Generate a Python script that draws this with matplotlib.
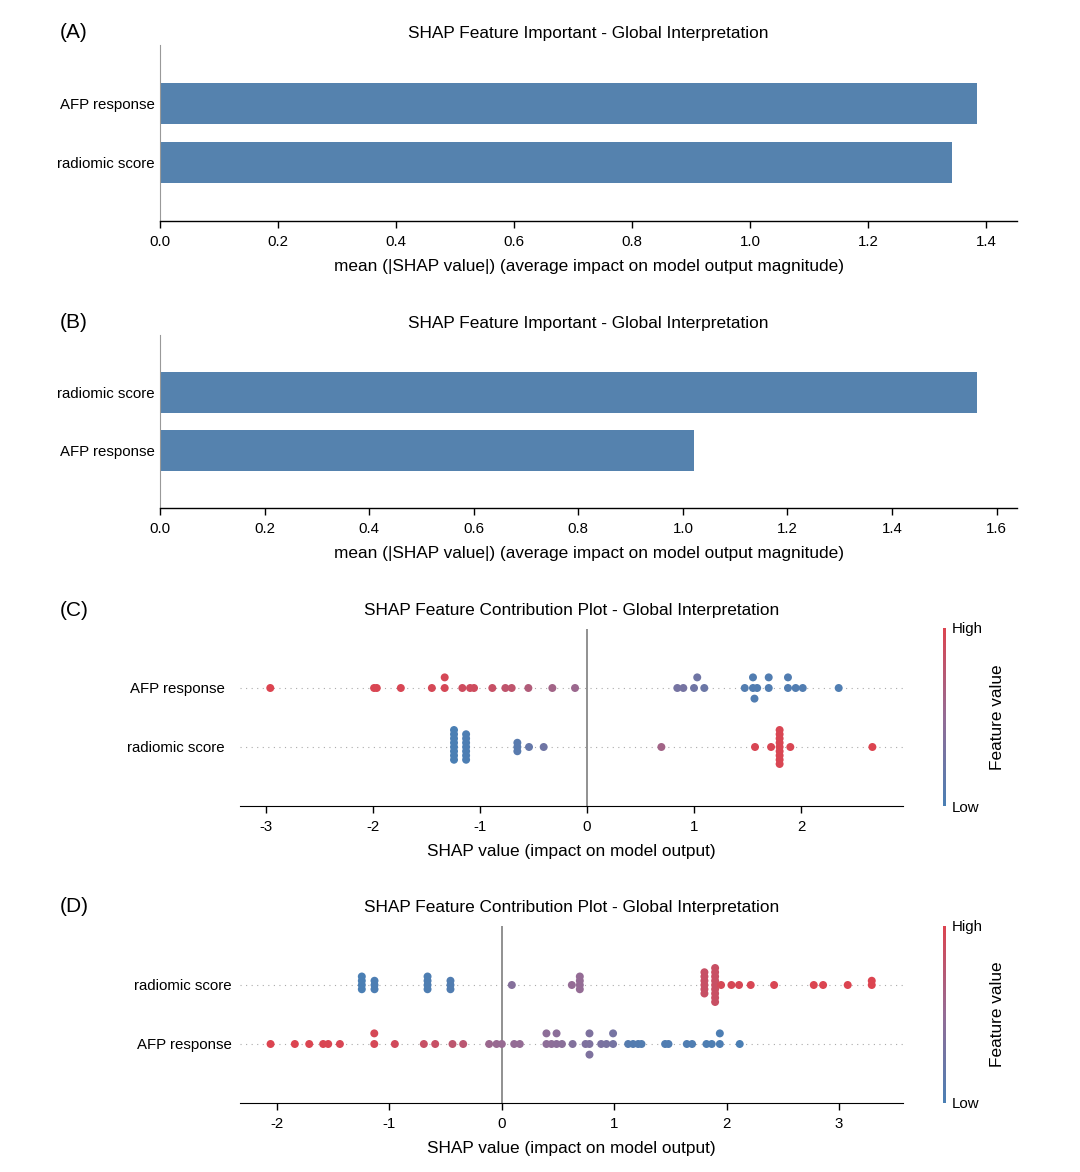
import numpy as np
import matplotlib.pyplot as plt
from matplotlib.colors import LinearSegmentedColormap
from matplotlib.cm import ScalarMappable

plt.rcParams['font.family'] = ['Liberation Sans', 'DejaVu Sans']
plt.rcParams['axes.unicode_minus'] = False

# ---- data -------------------------------------------------------------
# (A) / (B) global importance, features listed top to bottom
a_features = ['AFP response', 'radiomic score']
a_values = [1.385, 1.342]
b_features = ['radiomic score', 'AFP response']
b_values = [1.562, 1.021]

# (C) SHAP values and feature values (0 = low, 1 = high)
c_features = ['AFP response', 'radiomic score']
c_afp_shap = [-2.96, -1.99, -1.965, -1.74, -1.45, -1.33, -1.33, -1.165, -1.093,
              -1.056, -0.885, -0.763, -0.704, -0.548, -0.324, -0.112, 0.844, 0.90,
              1.0, 1.03, 1.096, 1.474, 1.551, 1.551, 1.565, 1.59, 1.698, 1.698,
              1.878, 1.878, 1.95, 2.016, 2.352]
c_afp_feat = [1.0, 0.98, 0.98, 0.97, 0.95, 0.95, 0.95, 0.9, 0.9,
              0.9, 0.85, 0.8, 0.8, 0.7, 0.6, 0.55, 0.3, 0.3,
              0.25, 0.25, 0.22, 0.06, 0.05, 0.05, 0.05, 0.05, 0.05, 0.05,
              0.05, 0.05, 0.05, 0.05, 0.04]
c_rad_shap = [-1.243] * 8 + [-1.13] * 7 + [-0.651] * 3 + [-0.542, -0.405, 0.695,
              1.57, 1.72] + [1.80] * 9 + [1.90, 2.667]
c_rad_feat = [0.0] * 8 + [0.02] * 7 + [0.1] * 3 + [0.18, 0.25, 0.6,
              0.97, 0.97] + [0.98] * 9 + [0.98, 1.0]

# (D)
d_features = ['radiomic score', 'AFP response']
d_rad_shap = [-1.246] * 4 + [-1.133] * 3 + [-0.661] * 4 + [-0.457] * 3 + [0.089, 0.623] + \
             [0.694] * 4 + [1.803] * 6 + [1.898] * 9 + [1.951, 2.043, 2.111, 2.215, 2.423,
             2.776, 2.859, 3.078, 3.292, 3.292]
d_rad_feat = [0.0] * 4 + [0.02] * 3 + [0.03] * 4 + [0.05] * 3 + [0.4, 0.5] + \
             [0.5] * 4 + [0.85] * 6 + [0.86] * 9 + [0.95, 0.96, 0.96, 0.97, 0.98,
             0.99, 0.99, 1.0, 1.0, 1.0]
d_afp_shap = [-2.058, -1.842, -1.714, -1.59, -1.545, -1.441, -1.135, -1.135, -0.952,
              -0.694, -0.593, -0.439, -0.344, -0.113, -0.047, 0.0, 0.110, 0.160,
              0.397, 0.397, 0.442, 0.487, 0.487, 0.535, 0.63, 0.745, 0.78, 0.78, 0.78,
              0.884, 0.931, 0.99, 0.99, 1.124, 1.168, 1.213, 1.243, 1.453, 1.483,
              1.646, 1.693, 1.821, 1.868, 1.94, 1.94, 2.117]
d_afp_feat = [1.0, 1.0, 0.99, 0.98, 0.98, 0.97, 0.95, 0.95, 0.92,
              0.85, 0.85, 0.78, 0.76, 0.55, 0.53, 0.52, 0.5, 0.5,
              0.45, 0.45, 0.45, 0.44, 0.44, 0.43, 0.38, 0.36, 0.35, 0.35, 0.35,
              0.33, 0.32, 0.3, 0.3, 0.08, 0.07, 0.07, 0.06, 0.05, 0.05,
              0.04, 0.04, 0.03, 0.03, 0.02, 0.02, 0.0]

bar_color = '#5582ae'
cmap = LinearSegmentedColormap.from_list('shap', ['#4a7fb4', '#946c95', '#dc4450'])

W, H = 1080, 1172


def box(l, t, r, b):
    # pixel box -> figure fraction
    return [l / W, 1 - b / H, (r - l) / W, (b - t) / H]


def swarm_offsets(vals, row_height=0.4):
    # same stacking as shap's summary plot
    vals = np.asarray(vals, dtype=float)
    quant = np.round(100 * (vals - vals.min()) / (vals.max() - vals.min() + 1e-8))
    inds = np.argsort(quant, kind='stable')
    ys = np.zeros(len(vals))
    layer, last = 0, None
    for i in inds:
        if quant[i] != last:
            layer = 0
        ys[i] = np.ceil(layer / 2) * ((layer % 2) * 2 - 1)
        layer += 1
        last = quant[i]
    ys *= 0.9 * (row_height / np.max(ys + 1))
    return ys


def bar_panel(ax, features, values, xlim, xticks, letter, y_letter):
    pos = np.arange(len(features))[::-1]
    ax.barh(pos, values, height=0.7, color=bar_color)
    ax.set_ylim(-1, len(features))
    ax.set_xlim(*xlim)
    ax.set_xticks(xticks)
    ax.set_xticklabels([f'{t:.1f}' for t in xticks])
    ax.set_yticks(pos)
    ax.set_yticklabels(features)
    ax.tick_params(axis='y', length=0, pad=4, labelsize=10.8)
    ax.tick_params(axis='x', length=5, width=1, labelsize=10.8, pad=5)
    for s in ['top', 'right']:
        ax.spines[s].set_visible(False)
    ax.spines['left'].set_color('#999999')
    ax.spines['left'].set_linewidth(0.8)
    ax.spines['bottom'].set_linewidth(1.0)
    ax.set_title('SHAP Feature Important - Global Interpretation', fontsize=12.4, pad=5)
    ax.set_xlabel('mean (|SHAP value|) (average impact on model output magnitude)',
                  fontsize=12.4, labelpad=7.5)
    fig.text(60 / W, 1 - y_letter / H, letter, fontsize=15, va='center')


def swarm_panel(ax, cax, features, shap_rows, feat_rows, xlim, xticks, letter, y_letter, ypad):
    n = len(features)
    for k, (sv, fv) in enumerate(zip(shap_rows, feat_rows)):
        pos = n - 1 - k
        ax.axhline(pos, color='#aaaaaa', lw=0.8, dashes=(1, 4), zorder=-1)
        ys = swarm_offsets(sv)
        ax.scatter(sv, pos + ys, c=fv, cmap=cmap, vmin=0, vmax=1, s=33,
                   linewidths=0, zorder=3)
    ax.axvline(0, color='#888888', lw=1.3, zorder=-1)
    ax.set_ylim(-1, n)
    ax.set_xlim(*xlim)
    ax.set_xticks(xticks)
    ax.set_yticks(np.arange(n)[::-1])
    ax.set_yticklabels(features)
    ax.tick_params(axis='y', length=0, pad=ypad, labelsize=10.8)
    ax.tick_params(axis='x', length=5, width=1, labelsize=10.8, pad=5)
    for s in ['top', 'right', 'left']:
        ax.spines[s].set_visible(False)
    ax.set_title('SHAP Feature Contribution Plot - Global Interpretation', fontsize=12.4, pad=10)
    ax.set_xlabel('SHAP value (impact on model output)', fontsize=12.4, labelpad=7.5)
    fig.text(60 / W, 1 - y_letter / H, letter, fontsize=15, va='center')

    sm = ScalarMappable(cmap=cmap)
    sm.set_array([])
    cb = fig.colorbar(sm, cax=cax, ticks=[0, 1])
    cb.set_ticklabels(['Low', 'High'])
    cb.outline.set_visible(False)
    cb.ax.tick_params(length=0, labelsize=10.8, pad=4)
    cb.set_label('Feature value', fontsize=12.4, labelpad=5)


fig = plt.figure(figsize=(W / 100, H / 100), dpi=100)

ax_a = fig.add_axes(box(160, 45, 1017, 221))
bar_panel(ax_a, a_features, a_values, (0, 1.4525), np.arange(0, 1.41, 0.2), '(A)', 33)

ax_b = fig.add_axes(box(160, 335, 1017, 508))
bar_panel(ax_b, b_features, b_values, (0, 1.639), np.arange(0, 1.61, 0.2), '(B)', 322)

ax_c = fig.add_axes(box(240, 629, 903, 806))
cax_c = fig.add_axes(box(943, 628, 946, 806))
swarm_panel(ax_c, cax_c, c_features, [c_afp_shap, c_rad_shap], [c_afp_feat, c_rad_feat],
            (-3.243, 2.953), [-3, -2, -1, 0, 1, 2], '(C)', 610, 11)

ax_d = fig.add_axes(box(240, 926, 903, 1103))
cax_d = fig.add_axes(box(943, 926, 946, 1103))
swarm_panel(ax_d, cax_d, d_features, [d_rad_shap, d_afp_shap], [d_rad_feat, d_afp_feat],
            (-2.33, 3.57), [-2, -1, 0, 1, 2, 3], '(D)', 907, 6)

fig.savefig('out.png', dpi=100)
